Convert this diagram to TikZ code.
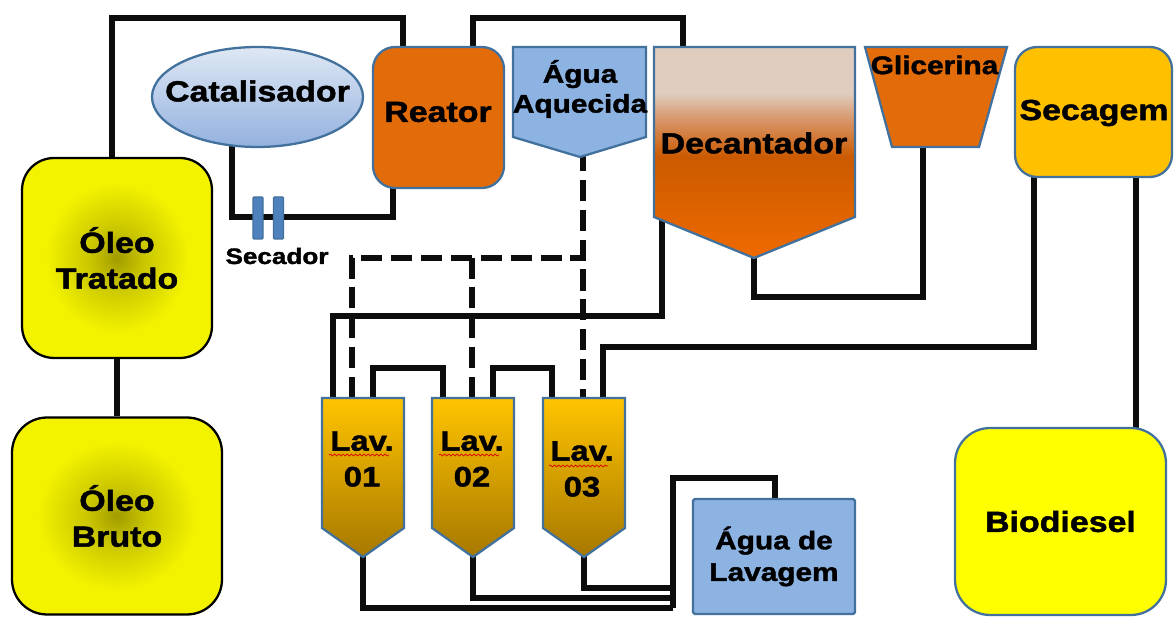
\documentclass[tikz,border=0pt]{standalone}
\usepackage{fontspec}
\setmainfont{Liberation Sans}[FakeStretch=1.17, BoldFeatures={FakeBold=1.6}]
\usetikzlibrary{shapes.geometric,decorations.pathmorphing}
\definecolor{pipec}{HTML}{0D0D0D}
\definecolor{bord}{HTML}{41719C}
\definecolor{reat}{HTML}{E36C0A}
\definecolor{agua}{HTML}{8DB3E2}
\definecolor{seca}{HTML}{FFC000}
\definecolor{bio}{HTML}{FFFF00}
\definecolor{catT}{HTML}{DFE8F4}
\definecolor{catB}{HTML}{93B1DF}
\definecolor{oleoC}{HTML}{A29C00}
\definecolor{oleoM}{HTML}{C9C500}
\definecolor{oleoE}{HTML}{F3F300}
\definecolor{lavT}{HTML}{FFC400}
\definecolor{lavB}{HTML}{A67800}
\definecolor{decT}{HTML}{E0CDBF}
\definecolor{decMid}{HTML}{D8976C}
\definecolor{decM}{HTML}{CB5A00}
\definecolor{decB}{HTML}{EF6A00}
\definecolor{secd}{HTML}{4F81BD}
\pgfdeclareverticalshading{decshade}{100bp}{color(0bp)=(decB); color(25bp)=(decB); color(49bp)=(decM); color(58bp)=(decMid); color(64bp)=(decT); color(100bp)=(decT)}
\pgfdeclareradialshading{oleoshade}{\pgfpoint{0bp}{0bp}}{color(0bp)=(oleoC); color(7bp)=(oleoM); color(19bp)=(oleoE); color(50bp)=(oleoE)}
\pgfdeclarelayer{pipes}
\pgfsetlayers{pipes,main}
\tikzset{
  pipe/.style={draw=pipec, line width=3.4pt, line join=miter},
  dpipe/.style={pipe, dash pattern=on 12pt off 5pt},
  unit/.style={draw=bord, line width=1.3pt},
  lbl/.style={font=\bfseries\fontsize{16.5}{20.4}\selectfont, align=center, inner sep=0pt, text=black},
  lblm/.style={font=\bfseries\fontsize{14.5}{17.5}\selectfont, align=center, inner sep=0pt, text=black},
  lbls/.style={font=\bfseries\fontsize{12.7}{15}\selectfont, align=center, inner sep=0pt, text=black},
  oleo/.style={draw=black, line width=1.3pt, shading=oleoshade, lbl, inner sep=0pt},
  rbox/.style={unit, lbl, inner sep=0pt},
  secbar/.style={draw=bord, line width=0.6pt, fill=secd, rounded corners=0.5pt, minimum width=0.2cm, minimum height=0.84cm, inner sep=0pt},
  spell/.style={draw=red!85!black, line width=0.4pt, decorate, decoration={snake, amplitude=0.55pt, segment length=2.4pt}},
}
\begin{document}
\begin{tikzpicture}[x=0.02cm,y=-0.02cm]
\useasboundingbox (0,0) rectangle (1174,617);

% --- units ---
\node[oleo, minimum width=3.8cm, minimum height=4cm, rounded corners=0.64cm] (tratado) at (117,258) {Óleo\\Tratado};
\node[oleo, minimum width=4.2cm, minimum height=3.94cm, rounded corners=0.7cm] (bruto) at (117,516) {Óleo\\Bruto};
\node[ellipse, unit, top color=catT, bottom color=catB, minimum width=4.22cm, minimum height=2cm, inner sep=0pt] (cat) at (257.5,97) {};
\node[lbl] (cattxt) at (257.5,91) {Catalisador};
\node[rbox, fill=reat, rounded corners=0.44cm, minimum width=2.62cm, minimum height=2.82cm] (reator) at (438.5,117.5) {};
\node[lbl] (reatxt) at (438,112) {Reator};

\node[secbar] (sec1) at (258,218) {};
\node[secbar] (sec2) at (278.5,218) {};
\node[lbls] (seclbl) at (277,256) {Secador};

\path[unit, fill=agua] (513,47) -- (646,47) -- (646,137) -- (580,157) -- (513,137) -- cycle;
\node[lblm, font=\bfseries\fontsize{14.5}{17}\selectfont] (aqtxt) at (580,89) {Água\\Aquecida};

\path[unit, shading=decshade] (654,47) -- (855,47) -- (855,217) -- (754,258) -- (654,217) -- cycle;
\node[lbl] (dectxt) at (754,143) {Decantador};

\path[unit, fill=reat] (865,47) -- (1007,47) -- (979,147) -- (892,147) -- cycle;
\node[lblm] (glitxt) at (934.5,65) {Glicerina};

\node[rbox, fill=seca, rounded corners=0.44cm, minimum width=3.14cm, minimum height=2.6cm] (secagem) at (1093.5,112) {};
\node[lbl] (sgtxt) at (1094,113) {Secagem};
\node[rbox, fill=bio, rounded corners=0.7cm, minimum width=4.22cm, minimum height=3.74cm] (bio) at (1060.5,521.5) {Biodiesel};
\node[unit, lblm, fill=agua, rounded corners=1pt, minimum width=3.24cm, minimum height=2.3cm, font=\bfseries\fontsize{14.5}{18}\selectfont] (lavagem) at (774,556.5) {Água de\\Lavagem};

% wash tanks
\path[unit, top color=lavT, bottom color=lavB] (322,398) -- (404,398) -- (404,528) -- (363,557) -- (322,528) -- cycle;
\node[lbl, font=\bfseries\fontsize{16}{20.4}\selectfont] (lav1) at (362,459) {Lav.\\01};
\path[unit, top color=lavT, bottom color=lavB] (432,398) -- (514,398) -- (514,528) -- (473,557) -- (432,528) -- cycle;
\node[lbl, font=\bfseries\fontsize{16}{20.4}\selectfont] (lav2) at (472,459) {Lav.\\02};
\path[unit, top color=lavT, bottom color=lavB] (543,398) -- (625,398) -- (625,528) -- (584,557) -- (543,528) -- cycle;
\node[lbl, font=\bfseries\fontsize{16}{20.4}\selectfont] (lav3) at (582,469) {Lav.\\03};
\draw[spell] (329,455) -- (389,455);
\draw[spell] (439,455) -- (499,455);
\draw[spell] (549,466) -- (608,466);

% --- ports ---
\coordinate (tr-n) at ([xshift=-0.1cm]tratado.north);
\coordinate (re-nw) at (403,47);
\coordinate (re-ne) at (473,47);
\coordinate (re-s) at (393,187);
\coordinate (cat-s) at (232,140);
\coordinate (aq-tip) at (583,150);
\coordinate (dec-n) at (683,47);
\coordinate (dec-w) at (662,215);
\coordinate (dec-s) at (754,255);
\coordinate (gli-s) at (923,147);
\coordinate (sg-s1) at (1034,177);
\coordinate (sg-s2) at (1136,177);
\coordinate (bio-n) at (1136,428);
\coordinate (l1a) at (333,398); \coordinate (l1b) at (352,398); \coordinate (l1c) at (373,398); \coordinate (l1s) at (363,555);
\coordinate (l2a) at (443,398); \coordinate (l2b) at (472,398); \coordinate (l2c) at (493,398); \coordinate (l2s) at (473,555);
\coordinate (l3a) at (552,398); \coordinate (l3b) at (583,398); \coordinate (l3c) at (603,398); \coordinate (l3s) at (584,555);
\coordinate (aw-n) at (775,499);
\coordinate (col) at (673,478);
% lanes
\coordinate (laneTop) at (0,18);
\coordinate (laneSec) at (0,217);
\coordinate (laneDash) at (0,258);
\coordinate (laneGli) at (0,297);
\coordinate (laneDec) at (0,316);
\coordinate (laneSg) at (0,347);
\coordinate (laneLav) at (0,368);
\coordinate (laneB3) at (0,588);
\coordinate (laneB2) at (0,598);
\coordinate (laneB1) at (0,608);

% --- pipes ---
\begin{pgfonlayer}{pipes}
\draw[pipe] (tratado.south) -- (bruto.north);
\draw[pipe] (tr-n) -- (tr-n |- laneTop) -| (re-nw);
\draw[pipe] (re-ne) -- (re-ne |- laneTop) -| (dec-n);
\draw[pipe] (cat-s) -- (cat-s |- laneSec) -| (re-s);
\draw[pipe] (dec-s) -- (dec-s |- laneGli) -| (gli-s);
\draw[pipe] (dec-w) -- (dec-w |- laneDec) -| (l1a);
\draw[pipe] (sg-s1) -- (sg-s1 |- laneSg) -| (l3c);
\draw[pipe] (sg-s2) -- (bio-n);
\draw[pipe] (l1c) -- (l1c |- laneLav) -| (l2a);
\draw[pipe] (l2c) -- (l2c |- laneLav) -| (l3a);
\draw[dpipe] (aq-tip) -- (l3b);
\draw[dpipe] (l1b) -- (l1b |- laneDash) -- (l3b |- laneDash);
\draw[dpipe] (l2b) -- (l2b |- laneDash);
\draw[pipe] (l1s) |- (col |- laneB1);
\draw[pipe] (l2s) |- (col |- laneB2);
\draw[pipe] (l3s) |- (col |- laneB3);
\draw[pipe] (col |- laneB1) -- (col) -| (aw-n);
\end{pgfonlayer}
\end{tikzpicture}
\end{document}
